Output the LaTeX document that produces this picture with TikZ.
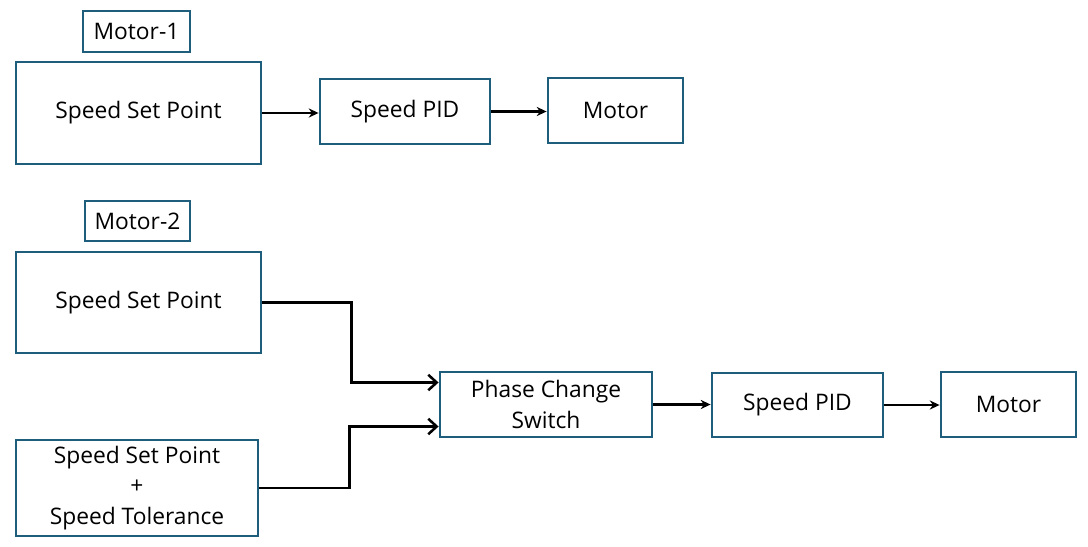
\documentclass[tikz,border=0pt]{standalone}
\usepackage{fontspec}
\setmainfont{Open Sans}
\usepackage{xcolor}
\usetikzlibrary{arrows.meta,positioning,calc}
\definecolor{boxblue}{RGB}{31,93,124}

\tikzset{
    block/.style={draw=boxblue, line width=2pt, align=center, inner sep=0pt,
        font=\fontsize{16.2}{21.5}\selectfont},
    tag/.style={block, line width=1.5pt},
    flow/.style={draw=black, line width=1.8pt, -{Stealth[length=7pt,width=6.5pt]}},
    merge/.style={draw=black, line width=1.8pt, -{Straight Barb[length=6pt,width=11pt,line width=1.8pt]}}
}

\begin{document}
\begin{tikzpicture}[x=0.025cm, y=-0.025cm]
    \useasboundingbox (0,0) rectangle (1088,547);

    % Motor-1
    \node[tag, minimum width=2.675cm, minimum height=1.025cm] (m1tag) at (136.5,31.5) {Motor-1};
    \node[block, minimum width=6.125cm, minimum height=2.55cm] (ssp1) at (138.5,113) {Speed Set Point};
    \node[block, minimum width=4.25cm, minimum height=1.625cm] (pid1) at (405,111.5) {Speed PID};
    \node[block, minimum width=3.375cm, minimum height=1.625cm] (motor1) at (615.5,110.5) {Motor};

    \draw[flow] (ssp1.east) -- (ssp1.east -| pid1.west);
    \draw[flow] (pid1.east) -- (pid1.east -| motor1.west);

    % Motor-2
    \node[tag, minimum width=2.625cm, minimum height=1.0cm] (m2tag) at (137.5,221) {Motor-2};
    \node[block, minimum width=6.125cm, minimum height=2.525cm] (ssp2) at (138.5,302.5) {Speed Set Point};
    \node[block, minimum width=6.05cm, minimum height=2.4cm] (sspt) at (137,488) {Speed Set Point\\+\\Speed Tolerance};
    \node[block, minimum width=5.3cm, minimum height=1.625cm] (phase) at (546,404.5) {Phase Change\\Switch};
    \node[block, minimum width=4.275cm, minimum height=1.6cm] (pid2) at (797.5,405) {Speed PID};
    \node[block, minimum width=3.375cm, minimum height=1.625cm] (motor2) at (1008.5,404.5) {Motor};

    \draw[merge] (ssp2.east) -- ++(89,0) |- ([yshift=0.55cm]phase.west);
    \draw[merge] (sspt.east) -- ++(90,0) |- ([yshift=-0.55cm]phase.west);
    \draw[flow] (phase.east) -- (phase.east -| pid2.west);
    \draw[flow] (pid2.east) -- (pid2.east -| motor2.west);
\end{tikzpicture}
\end{document}
